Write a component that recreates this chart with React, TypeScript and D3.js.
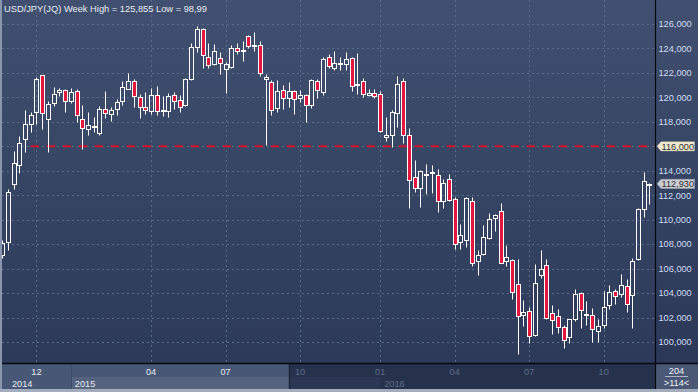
import React from 'react';
import * as d3 from 'd3';

// Weekly USD/JPY candles (114 visible bars)
const openP = [107.1,108.2,112.95,114.5,116.6,117.85,118.8,121.8,118.26,119.57,120.4,120.6,119.68,120.55,118.26,117.44,117.6,117.12,119.05,118.64,119.08,119.73,120.7,121.37,120.06,119.24,118.86,120.22,118.9,118.92,120.22,119.81,119.35,121.53,124.12,125.62,123.3,122.76,123.25,122.35,122.49,124.07,123.85,125.05,124.3,124.31,121.53,121.26,119.16,120.63,119.98,120.55,119.98,120.22,119.4,121.37,120.44,123.33,122.43,122.8,122.76,123.25,121.08,121.37,120.22,120.39,120.3,116.76,116.95,118.75,121.37,116.95,113.49,112.62,113.7,113.86,113.68,111.53,113.36,111.72,108.18,108.37,111.56,106.63,107.2,108.51,110.14,110.74,106.63,106.71,104.77,102.24,102.57,100.55,105.51,106.33,102.4,102.13,101.26,100.41,101.86,104.04,102.28,102.24,100.9,101.37,103.06,104.2,103.96,104.61,103.87,106.76,110.9,112.88];
const highP = [108.3,112.5,115.6,116.85,119.0,118.8,121.7,121.85,119.7,120.85,120.8,120.7,120.74,120.66,119.35,118.8,118.4,119.27,120.5,119.2,119.85,121.3,122.0,121.53,120.28,120.4,120.77,120.9,120.1,120.36,120.44,120.22,121.6,124.47,125.855,125.7,124.47,124.4,123.7,122.9,124.26,124.47,124.58,125.13,125.35,124.58,121.91,121.45,121.4,121.0,121.26,120.6,120.58,120.28,121.5,121.53,123.28,123.57,123.77,123.28,123.68,123.33,123.6,121.56,120.66,120.66,120.5,118.4,118.94,121.72,121.6,117.53,114.86,114.1,114.53,114.47,114.17,113.3,113.77,111.86,109.68,111.85,111.86,107.5,109.54,110.58,110.45,111.4,107.91,106.82,106.82,103.41,102.84,106.38,107.5,106.76,103.0,102.68,101.42,101.91,104.31,104.1,103.36,102.78,101.86,104.15,104.64,104.37,105.54,105.18,106.9,110.96,113.87,113.0];
const lowP = [106.9,107.5,112.5,113.8,115.5,117.2,117.85,117.45,115.5,119.3,120.1,118.8,119.57,118.0,115.8,116.95,117.17,116.9,118.3,118.1,118.6,119.4,120.66,119.2,118.32,118.64,118.64,118.53,118.48,118.4,119.02,118.8,119.3,121.45,123.7,122.43,122.43,122.62,121.9,120.36,122.4,123.55,122.98,124.04,123.8,121.75,116.1,118.6,118.8,119.08,119.22,118.64,119.62,118.0,119.13,119.95,120.17,122.4,122.2,122.27,122.24,120.55,120.25,120.03,120.1,119.98,117.14,116.4,115.92,117.55,116.27,110.96,112.27,111.04,112.08,112.2,110.63,110.98,111.53,107.58,107.63,107.77,106.22,105.48,107.15,108.46,109.05,106.45,106.22,103.55,98.99,101.31,99.9,100.5,105.24,101.86,100.69,100.77,99.54,99.92,101.69,101.12,101.37,100.0,100.0,101.15,102.73,103.11,103.66,102.46,101.15,106.68,110.22,111.3];
const closeP = [108.1,112.3,114.6,116.3,117.8,118.6,121.5,118.75,119.5,120.3,120.6,119.73,120.47,118.53,117.53,117.77,117.62,119.08,118.75,118.97,119.65,120.82,121.37,120.1,119.19,119.0,120.22,118.89,118.95,120.14,119.73,119.24,121.53,124.12,125.62,123.44,122.68,123.79,122.84,122.76,124.07,123.82,123.9,124.23,124.32,122.02,121.69,119.0,120.55,119.98,120.55,119.87,120.22,119.4,121.45,120.63,123.17,122.6,122.84,122.82,123.11,120.96,121.12,120.3,120.39,120.14,117.25,116.95,118.83,121.12,116.9,113.22,112.62,114.01,113.72,113.88,111.53,113.03,111.64,108.04,108.78,111.8,106.49,107.14,108.62,110.09,110.36,106.49,106.98,104.12,102.16,102.49,100.5,104.86,106.0,101.97,101.83,101.23,100.2,101.86,103.96,102.65,102.32,101.04,101.31,102.87,104.12,103.77,104.69,103.11,106.65,110.9,113.19,112.93];

const monthTickIdx = [6, 26, 39, 52, 66, 79, 92, 105];
const monthLabels = ['12', '04', '07', '10', '01', '04', '07', '10'];
const yearStartIdx = [0, 12, 66];
const yearLabels = ['2014', '2015', '2016'];
const priceTicks = [100, 102, 104, 106, 108, 110, 112, 114, 116, 118, 120, 122, 124, 126];
const refLevel = 116;
const refStartIdx = 5;
const highlightEndIdx = 50;
const titleText = 'USD/JPY(JQ) Week High = 125,855 Low = 98,99';
const barsTotal = '204';
const barsVisible = '>114<';

const W = 698;
const H = 392;
const PLOT_R = 655;
const AXIS_Y = 363;
const FRAME_B = 389;
const FONT = '"Liberation Sans", Arial, sans-serif';

const fmt = (v: number) => d3.format('.3f')(v).replace('.', ',');

export default function App() {
  const n = closeP.length;
  const xBand = d3.scaleBand<number>().domain(d3.range(n)).range([-0.76, 652.35]).padding(0);
  const xc = (i: number) => (xBand(i) as number) + xBand.bandwidth() / 2;
  const y = d3.scaleLinear().domain([100, 126]).range([342, 24]);
  const snap = (v: number) => Math.round(v) + 0.5;

  const hlEnd = Math.round(xc(highlightEndIdx));
  const lastIdx = n - 1;
  const lastY = y(closeP[lastIdx]);
  const refY = y(refLevel);

  return (
    <>
      <style>{`body{margin:0;background:#2b3857;}`}</style>
      <svg width={W} height={H} style={{ display: 'block' }} fontFamily={FONT}>
        <defs>
          <linearGradient id="bg" x1="0" y1="0" x2="0" y2="1">
            <stop offset="0%" stopColor="#415070" />
            <stop offset="100%" stopColor="#2b3857" />
          </linearGradient>
        </defs>
        <rect x={0} y={0} width={W} height={H} fill="url(#bg)" />

        {/* grid */}
        <g stroke="#5a6a8a" strokeWidth={1} strokeDasharray="2,3">
          {priceTicks.map((t) => (
            <line key={'h' + t} x1={2} x2={PLOT_R} y1={snap(y(t))} y2={snap(y(t))} />
          ))}
          {monthTickIdx.map((i) => (
            <line key={'v' + i} x1={snap(xc(i))} x2={snap(xc(i))} y1={0} y2={AXIS_Y} />
          ))}
        </g>

        {/* reference line */}
        <line x1={xc(refStartIdx)} x2={PLOT_R} y1={refY} y2={refY} stroke="#d4122e" strokeWidth={2} strokeDasharray="8.5,7.5" />

        {/* candles */}
        <g>
          {closeP.map((c, i) => {
            const o = openP[i];
            const cx = Math.round(xc(i));
            const px = cx + 0.5;
            let yt = snap(y(Math.max(o, c)));
            let yb = snap(y(Math.min(o, c)));
            if (yb - yt < 1) yb = yt + 1;
            const yh = snap(y(highP[i]));
            const yl = snap(y(lowP[i]));
            const down = c < o;
            return (
              <g key={i}>
                {yh < yt && <line x1={px} x2={px} y1={yh} y2={yt} stroke="#ffffff" strokeWidth={1} />}
                {yl > yb && <line x1={px} x2={px} y1={yb} y2={yl} stroke="#ffffff" strokeWidth={1} />}
                <rect x={cx - 1.5} y={yt} width={4} height={yb - yt} fill={down ? '#e2173e' : 'none'} stroke="#ffffff" strokeWidth={1} />
              </g>
            );
          })}
        </g>

        {/* title */}
        <text x={4} y={12} fontSize={9.3} fill="#e6ebf3">{titleText}</text>

        {/* right axis */}
        <rect x={PLOT_R + 1} y={0} width={W - PLOT_R - 1} height={AXIS_Y} fill="url(#bg)" />
        {priceTicks.filter((t) => t !== refLevel).map((t) => (
          <text key={'yl' + t} x={658.5} y={y(t) + 3.3} fontSize={9.2} fill="#cddcf2">{fmt(t)}</text>
        ))}
        <polygon
          points={`657,${refY} 661,${refY - 4.6} 694.5,${refY - 4.6} 694.5,${refY + 4.6} 661,${refY + 4.6}`}
          fill="#eeeacf" stroke="#b8b49a" strokeWidth={0.5}
        />
        <text x={661.5} y={refY + 3.3} fontSize={9.2} fill="#303030">{fmt(refLevel)}</text>
        <polygon
          points={`657,${lastY} 661,${lastY - 4.6} 694.5,${lastY - 4.6} 694.5,${lastY + 4.6} 661,${lastY + 4.6}`}
          fill="#c9ccd3" stroke="#9a9ea8" strokeWidth={0.5}
        />
        <text x={661.5} y={lastY + 3.3} fontSize={9.2} fill="#303030">{fmt(closeP[lastIdx])}</text>

        {/* bottom axis */}
        <rect x={0} y={AXIS_Y} width={PLOT_R} height={FRAME_B - AXIS_Y} fill="#26324c" />
        <rect x={2} y={AXIS_Y} width={hlEnd - 2} height={FRAME_B - AXIS_Y} fill="#485775" />
        <rect x={Math.round(xc(yearStartIdx[1]))} y={377} width={hlEnd - Math.round(xc(yearStartIdx[1]))} height={FRAME_B - 377} fill="#55637f" />
        <rect x={hlEnd} y={377} width={Math.round(xc(yearStartIdx[2])) - hlEnd} height={FRAME_B - 377} fill="#2c3853" />
        <line x1={snap(xc(yearStartIdx[1]))} x2={snap(xc(yearStartIdx[1]))} y1={AXIS_Y} y2={FRAME_B} stroke="#3d4b69" />
        <line x1={hlEnd + 0.5} x2={hlEnd + 0.5} y1={AXIS_Y} y2={FRAME_B} stroke="#1b2438" strokeWidth={1.5} />
        {monthTickIdx.map((i, k) => (
          <text key={'ml' + i} x={xc(i)} y={375} fontSize={9.2} textAnchor="middle" fill={xc(i) < hlEnd ? '#e6ebf4' : '#5f6c87'}>
            {monthLabels[k]}
          </text>
        ))}
        {yearStartIdx.map((i, k) => {
          const x0 = k === 0 ? 12 : xc(i) + 4;
          return (
            <text key={'yr' + i} x={x0} y={386.5} fontSize={9.2} fill={x0 < hlEnd ? '#e6ebf4' : '#5f6c87'}>
              {yearLabels[k]}
            </text>
          );
        })}

        {/* bars-count box */}
        <rect x={PLOT_R + 1} y={AXIS_Y} width={W - PLOT_R - 1} height={FRAME_B - AXIS_Y} fill="#4a5876" />
        <text x={676.5} y={373.5} fontSize={9.2} textAnchor="middle" fill="#eef1f7">{barsTotal}</text>
        <line x1={665} x2={688} y1={376.5} y2={376.5} stroke="#aeb6c6" strokeWidth={1} />
        <text x={676.5} y={386} fontSize={9.2} textAnchor="middle" fill="#eef1f7">{barsVisible}</text>

        {/* frame lines */}
        <line x1={0} x2={W} y1={AXIS_Y + 0.5} y2={AXIS_Y + 0.5} stroke="#05080f" strokeWidth={1.5} />
        <line x1={PLOT_R + 0.5} x2={PLOT_R + 0.5} y1={0} y2={FRAME_B} stroke="#05080f" strokeWidth={1.2} />
        <rect x={0} y={0} width={2} height={H} fill="#8a96ad" />
        <rect x={0} y={FRAME_B} width={W} height={H - FRAME_B} fill="#a3acbd" />
      </svg>
    </>
  );
}
